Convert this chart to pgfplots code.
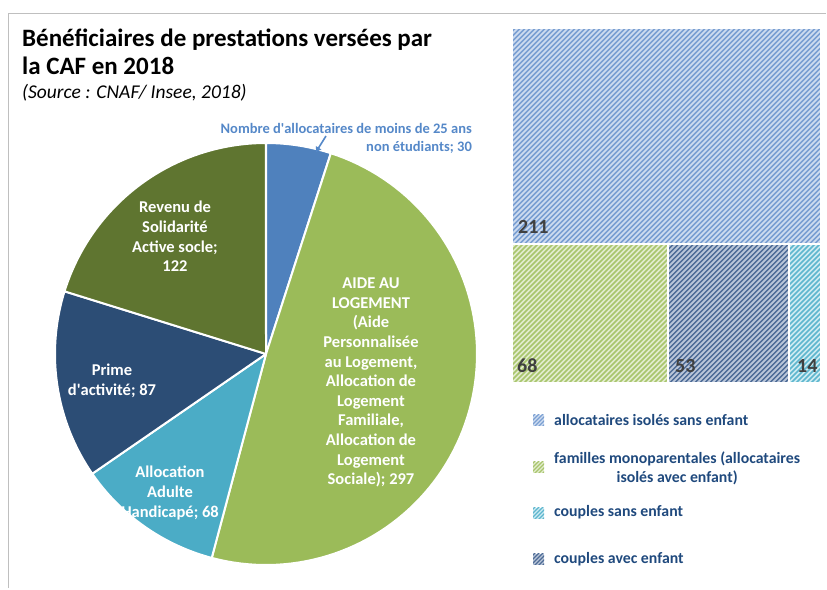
\documentclass[border=0pt]{standalone}
\usepackage{pgfplots}
\pgfplotsset{compat=1.18}
\usepackage{pgfplotstable}
\usetikzlibrary{arrows.meta}
\usepackage{fontspec}
\setmainfont{Carlito}

\definecolor{cBlue}{HTML}{4F81BD}
\definecolor{cGreen}{HTML}{9BBB59}
\definecolor{cTeal}{HTML}{4BACC6}
\definecolor{cNavy}{HTML}{2C4D75}
\definecolor{cOlive}{HTML}{5F7530}
\definecolor{legtext}{HTML}{1F497D}
\definecolor{annot}{HTML}{5588C8}
\definecolor{numgray}{HTML}{404040}
\definecolor{fBlue}{HTML}{CFDDF0}
\definecolor{hBlue}{HTML}{7A9FD2}
\definecolor{fGreen}{HTML}{E2ECCE}
\definecolor{hGreen}{HTML}{A8C56C}
\definecolor{fNavy}{HTML}{BAC6D9}
\definecolor{hNavy}{HTML}{4D6B96}
\definecolor{fTeal}{HTML}{CDEBF2}
\definecolor{hTeal}{HTML}{5DB6CE}

% pie data (thousands of beneficiaries)
\pgfplotstableread{
label value
moins25 30
logement 297
aah 68
prime 87
rsa 122
}\pietable

% treemap data
\pgfplotstableread{
group value
isoles 211
mono 68
couplesenf 53
couplessans 14
}\treetable

\pgfplotstablegetelem{0}{value}\of\pietable \let\pA\pgfplotsretval
\pgfplotstablegetelem{1}{value}\of\pietable \let\pB\pgfplotsretval
\pgfplotstablegetelem{2}{value}\of\pietable \let\pC\pgfplotsretval
\pgfplotstablegetelem{3}{value}\of\pietable \let\pD\pgfplotsretval
\pgfplotstablegetelem{4}{value}\of\pietable \let\pE\pgfplotsretval
\pgfmathsetmacro\ptot{\pA+\pB+\pC+\pD+\pE}
\pgfmathsetmacro\aZ{90}
\pgfmathsetmacro\aA{\aZ-(\pA/\ptot)*360}
\pgfmathsetmacro\aB{\aA-(\pB/\ptot)*360}
\pgfmathsetmacro\aC{\aB-(\pC/\ptot)*360}
\pgfmathsetmacro\aD{\aC-(\pD/\ptot)*360}
\pgfmathsetmacro\aE{\aD-(\pE/\ptot)*360}

\pgfplotstablegetelem{0}{value}\of\treetable \let\tA\pgfplotsretval
\pgfplotstablegetelem{1}{value}\of\treetable \let\tB\pgfplotsretval
\pgfplotstablegetelem{2}{value}\of\treetable \let\tC\pgfplotsretval
\pgfplotstablegetelem{3}{value}\of\treetable \let\tD\pgfplotsretval
\pgfmathsetmacro\ttot{\tA+\tB+\tC+\tD}
\pgfmathsetmacro\bsum{\tB+\tC+\tD}
\pgfmathsetmacro\ymid{28+(\tA/\ttot)*355}
\pgfmathsetmacro\xb{512+(\tB/\bsum)*309}
\pgfmathsetmacro\xc{\xb+(\tC/\bsum)*309}

\newcommand{\slice}[3]{%
  \addplot[fill=#3, draw=white, line width=2pt, line join=round,
    domain=#2:#1, samples=90, variable=\t]
    ({266+211*cos(\t)},{354-211*sin(\t)}) -- (266,354) -- cycle;
}
\newcommand{\trect}[5]{%
  \addplot[draw=none, fill=#5]
    coordinates {(#1,#2) (#3,#2) (#3,#4) (#1,#4)} -- cycle;
}
% hatching (decoration of the filled rectangles), in page pixel coordinates
\newcommand{\hatchrect}[7]{%
  \begin{scope}
  \clip (#1,#2) rectangle (#3,#4);
  \foreach \k in {#6}{%
    \draw[#5, line width=#7] (#1+\k,#4+2) -- (#1+\k+420,#4-418);}
  \end{scope}%
}

\begin{document}
\begin{tikzpicture}
\begin{axis}[
  width=827pt, height=589pt, scale only axis,
  xmin=0, xmax=827, ymin=0, ymax=589, y dir=reverse,
  hide axis, clip=false,
]
% page extent
\path (axis cs:0,0) rectangle (axis cs:827,589);
\coordinate (TL) at (axis cs:0,0);
% frame
\draw[color=black!25, line width=1.5pt] (8.5,588) -- (8.5,13.5) -- (826.2,13.5);

% pie
\slice{\aZ}{\aA}{cBlue}
\slice{\aA}{\aB}{cGreen}
\slice{\aB}{\aC}{cTeal}
\slice{\aC}{\aD}{cNavy}
\slice{\aD}{\aE}{cOlive}

% treemap
\trect{512}{28}{821}{\ymid}{fBlue}
\trect{512}{\ymid}{\xb}{383}{fGreen}
\trect{\xb}{\ymid}{\xc}{383}{fNavy}
\trect{\xc}{\ymid}{821}{383}{fTeal}

% pie labels
\begin{scope}[every node/.style={align=center, inner sep=0pt, text=white, font=\fontsize{16.5}{19.6}\selectfont\bfseries}]
\node at (axis cs:175,236.5) {Revenu de\\Solidarité\\Active socle;\\122};
\node at (axis cs:112,381) {Prime\\d\textquotesingle activité; 87};
\node at (axis cs:170,493) {Allocation\\Adulte\\Handicapé; 68};
\node at (axis cs:371,382.5) {AIDE AU\\LOGEMENT\\(Aide\\Personnalisée\\au Logement,\\Allocation de\\Logement\\Familiale,\\Allocation de\\Logement\\Sociale); 297};
\end{scope}

% annotation for small slice
\node[anchor=base east, inner sep=0pt, text=annot, font=\fontsize{14.5}{17.5}\selectfont\bfseries] at (axis cs:472,133) {Nombre d\textquotesingle allocataires de moins de 25 ans};
\node[anchor=base east, inner sep=0pt, text=annot, font=\fontsize{14.5}{17.5}\selectfont\bfseries] at (axis cs:472,151) {non étudiants; 30};
\draw[annot, line width=1.6pt, -{Triangle[width=6pt,length=5pt]}] (axis cs:326,136) -- (axis cs:316,152);

% title
\node[anchor=base west, inner sep=0pt, font=\fontsize{25}{30}\selectfont\bfseries] at (axis cs:22,46) {Bénéficiaires de prestations versées par};
\node[anchor=base west, inner sep=0pt, font=\fontsize{25}{30}\selectfont\bfseries] at (axis cs:22,74) {la CAF en 2018};
\node[anchor=base west, inner sep=0pt, font=\fontsize{19.5}{23}\selectfont\itshape] at (axis cs:22,98) {(Source : CNAF/ Insee, 2018)};
\end{axis}

\begin{scope}[shift={(TL)}, x=1pt, y=-1pt]
% hatching of the treemap tiles
\hatchrect{512}{28}{821}{\ymid}{hBlue}{-400,-395,...,420}{1.6pt}
\hatchrect{512}{\ymid}{\xb}{383}{hGreen}{-400,-395,...,420}{1.6pt}
\hatchrect{\xb}{\ymid}{\xc}{383}{hNavy}{-400,-395,...,420}{1.5pt}
\hatchrect{\xc}{\ymid}{821}{383}{hTeal}{-400,-395,...,420}{1.6pt}
\draw[white, line width=2pt] (512,28) rectangle (821,\ymid);
\draw[white, line width=2pt] (512,\ymid) rectangle (\xb,383);
\draw[white, line width=2pt] (\xb,\ymid) rectangle (\xc,383);
\draw[white, line width=2pt] (\xc,\ymid) rectangle (821,383);

% treemap numbers
\begin{scope}[every node/.style={anchor=base west, inner sep=0pt, text=numgray, font=\fontsize{20}{24}\selectfont\bfseries}]
\node at (518,234) {211};
\node at (517,373) {68};
\node at (675,373) {53};
\node at (797,373) {14};
\end{scope}

% legend
\fill[fBlue] (533,415) rectangle (544,426);
\hatchrect{533}{415}{544}{426}{hBlue}{-24,-20,...,16}{1.3pt}
\fill[fGreen] (533,462) rectangle (544,473);
\hatchrect{533}{462}{544}{473}{hGreen}{-24,-20,...,16}{1.3pt}
\fill[fTeal] (533,508) rectangle (544,519);
\hatchrect{533}{508}{544}{519}{hTeal}{-24,-20,...,16}{1.3pt}
\fill[fNavy] (533,554) rectangle (544,565);
\hatchrect{533}{554}{544}{565}{hNavy}{-24,-20,...,16}{1.3pt}
\begin{scope}[every node/.style={anchor=base west, inner sep=0pt, text=legtext, font=\fontsize{15.8}{19}\selectfont\bfseries}]
\node at (554,426) {allocataires isolés sans enfant};
\node at (554,463.5) {\begin{tabular}[t]{@{}c@{}}familles monoparentales (allocataires\\isolés avec enfant)\end{tabular}};
\node at (554,517) {couples sans enfant};
\node at (554,564) {couples avec enfant};
\end{scope}
\end{scope}
\end{tikzpicture}
\end{document}
